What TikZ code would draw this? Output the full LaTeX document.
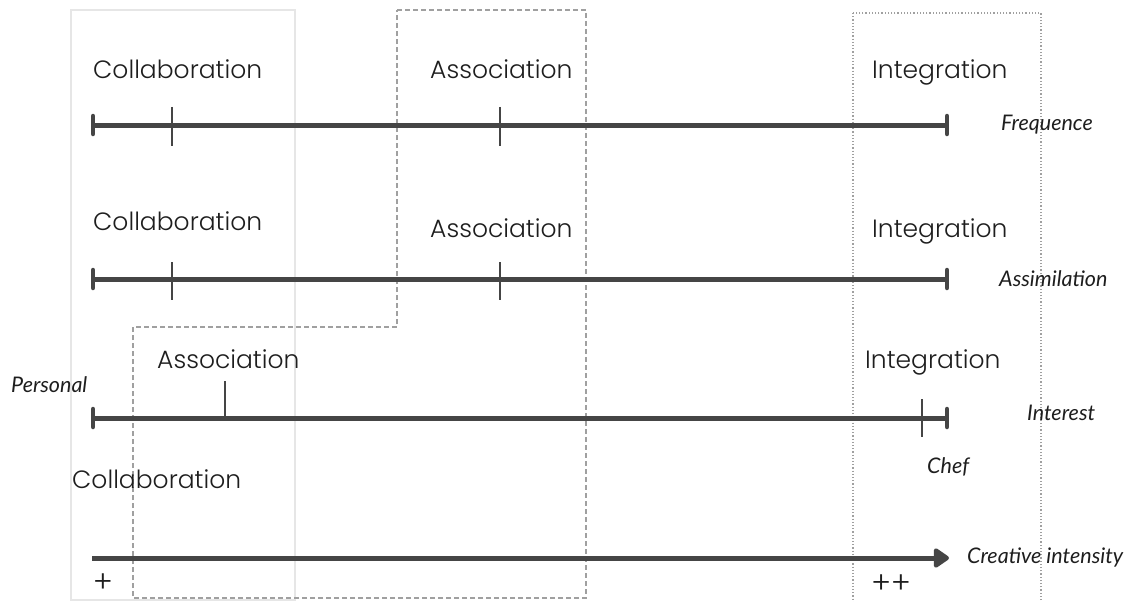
\documentclass[tikz,border=0pt]{standalone}
\usepackage{fontspec}
\setmainfont{Poppins Light}
\newfontfamily\latoit{Lato Italic}
\usetikzlibrary{arrows.meta}
\definecolor{axc}{HTML}{454545}
\definecolor{txc}{HTML}{1E1E1E}
\definecolor{boxa}{HTML}{E6E6E6}
\definecolor{boxb}{HTML}{A0A0A0}
\tikzset{
  lbl/.style={anchor=base west, inner sep=0pt, text=txc, font=\fontsize{25}{28}\selectfont},
  ilbl/.style={anchor=west, inner sep=0pt, text=txc, font=\latoit\fontsize{21.5}{24}\selectfont},
  pluslbl/.style={anchor=center, inner sep=0pt, text=txc, font=\fontsize{30}{32}\selectfont},
  axisline/.style={draw=axc, line width=5pt},
  capbar/.style={draw=axc, line width=4.5pt, line cap=round},
  tickmark/.style={draw=axc, line width=2pt},
}
\begin{document}
\begin{tikzpicture}[x=1pt,y=-1pt]
\useasboundingbox[fill=white] (0,0) rectangle (1136,602);
% boxes
\draw[boxa, line width=1.2pt] (71,10) rectangle (295,600);
\draw[boxb, line width=1.6pt, dash pattern=on 5pt off 3pt] (397,10) -- (586,10) -- (586,598) -- (133,598) -- (133,327) -- (397,327) -- cycle;
\draw[boxb, line width=1.6pt, dash pattern=on 1.2pt off 2pt] (853,13) rectangle (1041,603);
% row 1
\coordinate (r1s) at (93,125); \coordinate (r1e) at (947,125);
\draw[axisline] (r1s) -- (r1e);
\draw[capbar] ([yshift=-9pt]r1s) -- ([yshift=9pt]r1s);
\draw[capbar] ([yshift=-9pt]r1e) -- ([yshift=9pt]r1e);
\coordinate (t1a) at (172,107); \coordinate (t1b) at (172,146);
\coordinate (t1c) at (500,107); \coordinate (t1d) at (500,146);
\draw[tickmark] (t1a) -- (t1b);
\draw[tickmark] (t1c) -- (t1d);
\node[lbl] (c1) at (93,79) {Collaboration};
\node[lbl] (s1) at (430,79) {Association};
\node[lbl] (i1) at (872,79) {Integration};
\node[ilbl] (f1) at (1001,125) {Frequence};
% row 2
\coordinate (r2s) at (93,279); \coordinate (r2e) at (947,279);
\draw[axisline] (r2s) -- (r2e);
\draw[capbar] ([yshift=-9pt]r2s) -- ([yshift=9pt]r2s);
\draw[capbar] ([yshift=-9pt]r2e) -- ([yshift=9pt]r2e);
\coordinate (t2a) at (172,262); \coordinate (t2b) at (172,300);
\coordinate (t2c) at (500,262); \coordinate (t2d) at (500,300);
\draw[tickmark] (t2a) -- (t2b);
\draw[tickmark] (t2c) -- (t2d);
\node[lbl] (c2) at (93,230) {Collaboration};
\node[lbl] (s2) at (430,237) {Association};
\node[lbl] (i2) at (872,237) {Integration};
\node[ilbl] (f2) at (999,279) {Assimilation};
% row 3
\coordinate (r3s) at (93,418); \coordinate (r3e) at (947,418);
\draw[axisline] (r3s) -- (r3e);
\draw[capbar] ([yshift=-9pt]r3s) -- ([yshift=9pt]r3s);
\draw[capbar] ([yshift=-9pt]r3e) -- ([yshift=9pt]r3e);
\coordinate (t3a) at (225,381); \coordinate (t3b) at (225,418);
\coordinate (t3c) at (922,399); \coordinate (t3d) at (922,437);
\draw[tickmark] (t3a) -- (t3b);
\draw[tickmark] (t3c) -- (t3d);
\node[lbl] (s3) at (157,368) {Association};
\node[lbl] (i3) at (865,368) {Integration};
\node[ilbl] (p3) at (11,385) {Personal};
\node[ilbl] (f3) at (1027,413) {Interest};
\node[ilbl] (ch) at (927,467) {Chef};
% row 4
\node[lbl] (c4) at (72,488) {Collaboration};
\coordinate (r4s) at (92,558); \coordinate (r4e) at (949,558);
\draw[draw=axc, line width=5pt, -{Triangle[length=17pt,width=22pt,round]}] (r4s) -- (r4e);
\node[ilbl] (ci) at (967,557) {Creative intensity};
\node[pluslbl] (pl) at (103,583) {+};
\node[pluslbl] (pp) at (891,584) {++};
\end{tikzpicture}
\end{document}
